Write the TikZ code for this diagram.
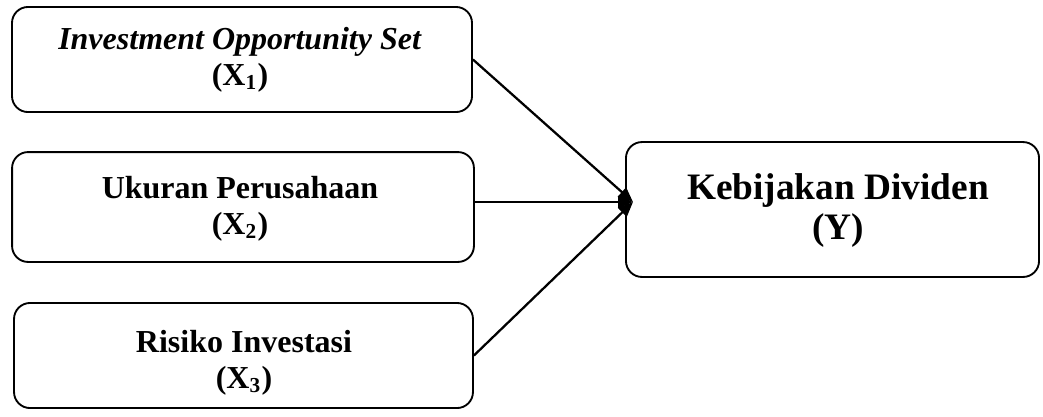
\documentclass[tikz,border=0pt]{standalone}
\usepackage{fontspec}
\setmainfont{Liberation Serif}
\usetikzlibrary{arrows.meta,positioning,calc}

\begin{document}
\begin{tikzpicture}[x=0.375pt,y=-0.375pt]
\tikzset{varbox/.style={draw, line width=0.7pt, rounded corners=6pt, inner sep=0pt}}
\tikzset{vartext/.style={align=center, font=\bfseries\fontsize{12}{13.5}\selectfont, anchor=base}}
\tikzstyle{pointer} = [line width=0.85pt, -{Triangle[length=5.6pt,width=4.6pt]}]

\useasboundingbox (0,0) rectangle (1043,416);

% kotak variabel
\node[varbox, minimum width=172.5pt, minimum height=39.4pt] (b1) at (242,59.5) {};
\node[varbox, minimum width=173.2pt, minimum height=41.2pt] (b2) at (243,207) {};
\node[varbox, minimum width=172.1pt, minimum height=39.4pt] (b3) at (243.5,355.5) {};
\node[varbox, minimum width=154.9pt, minimum height=50.6pt] (y) at (832.5,209.5) {};

% teks (anchor base = baris terakhir)
\node[vartext] (t1) at (240,85) {\textit{Investment Opportunity Set}\\(X\textsubscript{1})};
\node[vartext] (t2) at (240,234) {Ukuran Perusahaan\\(X\textsubscript{2})};
\node[vartext] (t3) at (244,388) {Risiko Investasi\\(X\textsubscript{3})};
\node[vartext, font=\bfseries\fontsize{14}{15}\selectfont] (ty) at (838,239) {Kebijakan Dividen\\(Y)};

\coordinate (hub) at (633,202);
\draw[pointer] (b1.east) -- (hub);
\draw[pointer] (b2.east |- hub) -- (hub);
\draw[pointer] (b3.east) -- (hub);
\end{tikzpicture}
\end{document}
